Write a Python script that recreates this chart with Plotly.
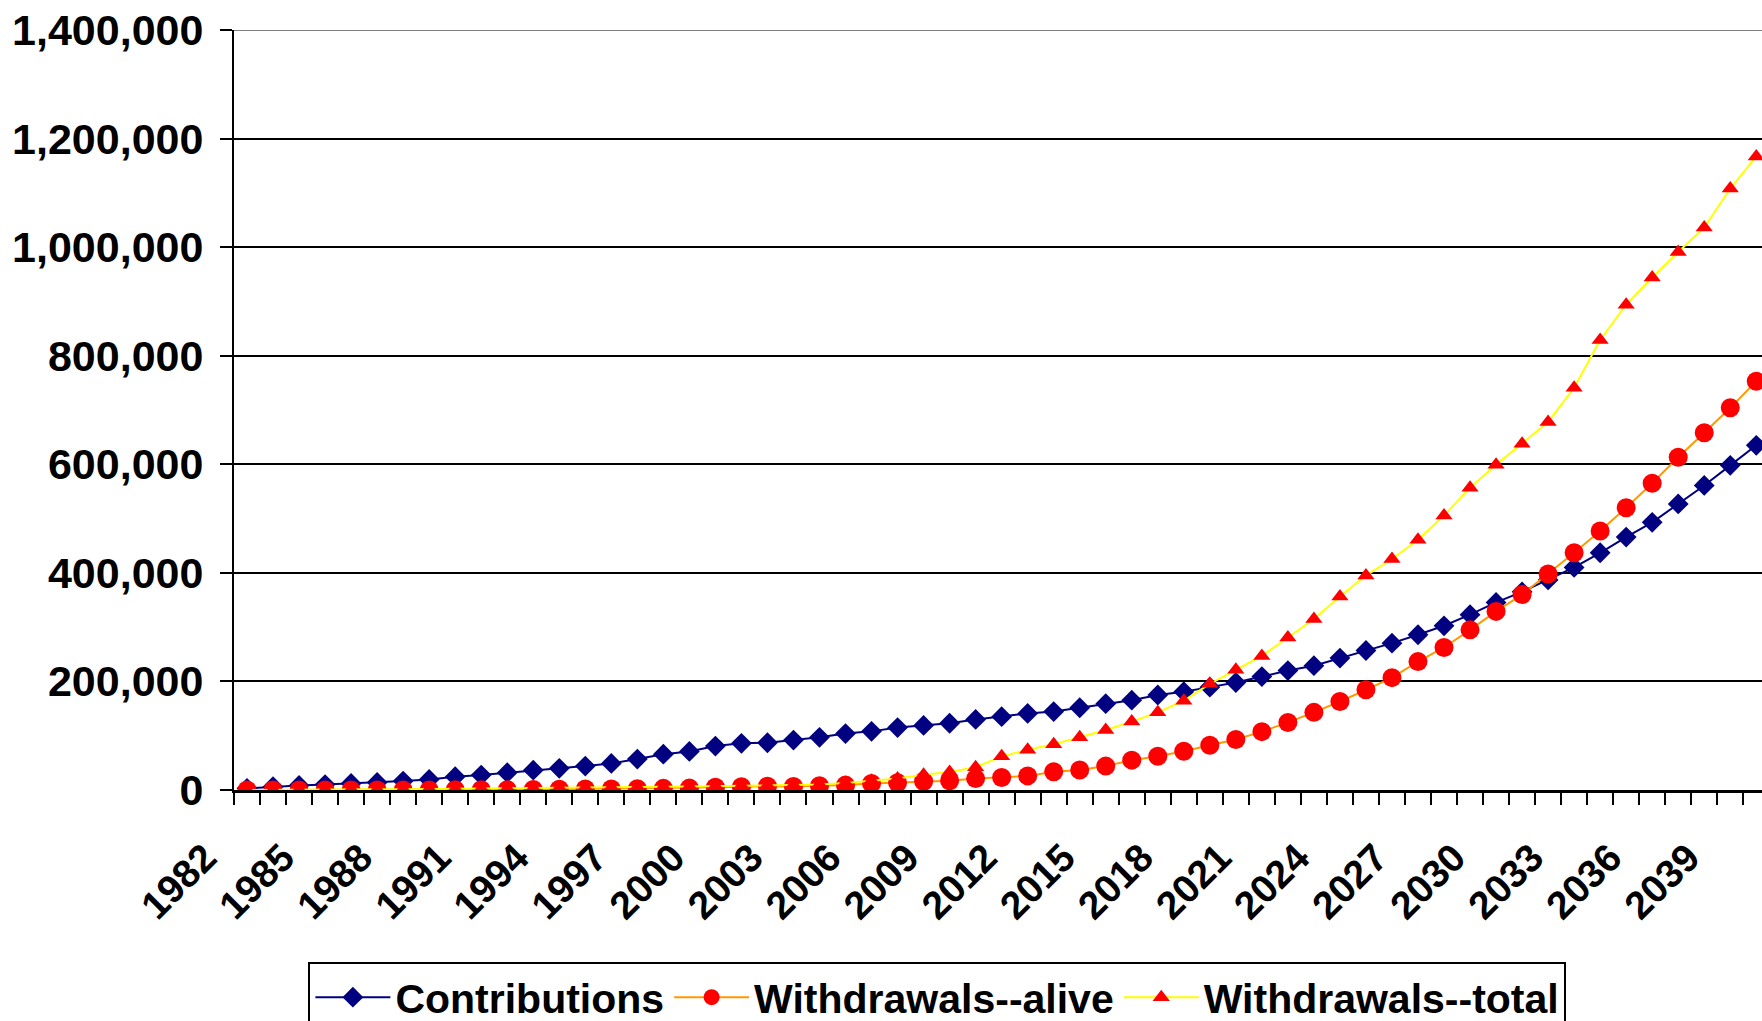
import plotly.graph_objects as go

# Annual series, 1982-2040
years = list(range(1982, 2041))

contributions = [
    3000, 6000, 8500, 10000, 12000, 14000, 16500, 19500, 24500, 27500,
    32000, 36500, 40000, 44000, 49000, 57000, 66000, 71000, 81000, 86000,
    87000, 92000, 97000, 104000, 108000, 115000, 119000, 123000, 130000, 135000,
    141000, 144500, 151500, 159000, 165500, 175000, 181000, 189500, 198000, 209000,
    220000, 229000, 243000, 257000, 270500, 286000, 302500, 323000, 345500, 365000,
    387000, 410000, 437000, 466000, 493000, 527000, 561000, 598000, 635000,
]

withdrawals_alive = [
    0, 0, 0, 0, 0, 0, 0, 0, 500, 500,
    500, 1000, 1500, 2000, 2000, 2500, 3000, 3500, 5000, 6000,
    7000, 6500, 8000, 9000, 12000, 13500, 16000, 17000, 21000, 23000,
    26000, 33500, 37000, 44000, 55000, 62000, 71500, 82500, 93000, 107500,
    124500, 143000, 163000, 184500, 207000, 236500, 262500, 295000, 329000, 360000,
    398000, 437000, 477000, 520000, 565000, 613000, 658000, 704000, 753000,
]

withdrawals_total = [
    0, 500, 700, 900, 1100, 1300, 1500, 1800, 2100, 2400,
    2800, 3200, 3700, 4200, 4700, 5200, 5800, 6400, 7000, 8000,
    8500, 9000, 10000, 13000, 17000, 21000, 28000, 33000, 42000, 62000,
    74000, 84500, 97000, 110500, 126000, 143000, 164500, 195500, 221500, 247000,
    281000, 315000, 356500, 395000, 425500, 461000, 505500, 557000, 599000, 638000,
    678000, 741000, 829000, 894000, 944000, 991000, 1036000, 1108000, 1167000,
]

label_years = list(range(1982, 2041, 3))
label_text = [str(y) for y in label_years]
y_ticks = list(range(0, 1400001, 200000))

FONT = "Liberation Sans, Arial, sans-serif"

fig = go.Figure()
fig.add_trace(go.Scatter(
    x=years, y=contributions, name="Contributions", mode="lines+markers",
    line=dict(color="#000080", width=2),
    marker=dict(symbol="diamond", size=16, color="#000080"),
))
fig.add_trace(go.Scatter(
    x=years, y=withdrawals_alive, name="Withdrawals--alive", mode="lines+markers",
    line=dict(color="#FF9900", width=2),
    marker=dict(symbol="circle", size=19, color="#FF0000"),
))
fig.add_trace(go.Scatter(
    x=years, y=withdrawals_total, name="Withdrawals--total", mode="lines+markers",
    line=dict(color="#FFFF00", width=2),
    marker=dict(symbol="triangle-up", size=15, color="#FF0000"),
))

# grey top border of the plot area
fig.add_shape(type="line", xref="paper", yref="y", x0=0, x1=1,
              y0=1400000, y1=1400000, line=dict(color="#808080", width=2),
              layer="above")

fig.update_layout(
    width=1762, height=1021,
    margin=dict(l=234, r=0, t=30, b=231),
    paper_bgcolor="white", plot_bgcolor="white",
    font=dict(family=FONT, color="black"),
    showlegend=True,
    legend=dict(
        orientation="h",
        xref="container", yref="container",
        x=0.532, xanchor="center", y=1 - 962 / 1021, yanchor="top",
        font=dict(family=FONT, size=41, weight="bold", color="black"),
        bordercolor="black", borderwidth=2, bgcolor="white",
        itemwidth=75,
    ),
    xaxis=dict(
        range=[1981.5, 2040.22],
        tickmode="array", tickvals=label_years, ticktext=label_text,
        tickangle=-45, ticks="",
        tickfont=dict(family=FONT, size=39, weight="bold", color="black"),
        ticklabelshift=-42, ticklabelstandoff=26,
        showgrid=False, zeroline=False,
        showline=True, linecolor="black", linewidth=3,
        minor=dict(ticks="outside", tick0=1981.5, dtick=1, ticklen=12,
                   tickwidth=2, tickcolor="black", showgrid=False),
    ),
    yaxis=dict(
        range=[0, 1400000],
        tickmode="array", tickvals=y_ticks,
        tickformat=",",
        ticks="outside", ticklen=12, tickwidth=2, tickcolor="black",
        tickfont=dict(family=FONT, size=43, weight="bold", color="black"),
        showgrid=True, gridcolor="black", gridwidth=1.5,
        zeroline=False,
        showline=True, linecolor="black", linewidth=2,
        ticklabelstandoff=8,
    ),
)

fig.write_html("out.html")
